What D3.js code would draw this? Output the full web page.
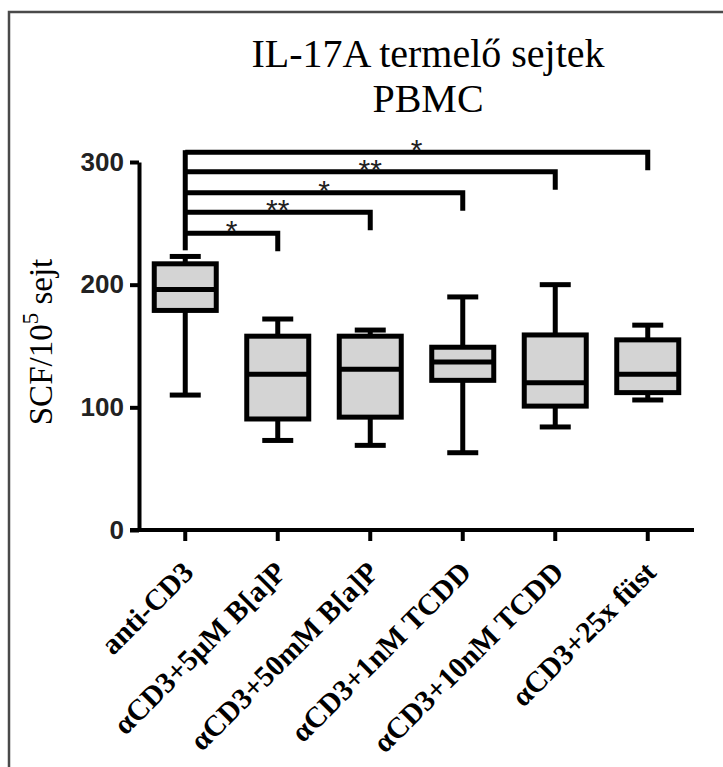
<!DOCTYPE html>
<html>
<head>
<meta charset="utf-8">
<script src="https://cdn.jsdelivr.net/npm/d3@7"></script>
<style>
body{margin:0;background:#fff;}
</style>
</head>
<body>
<svg></svg>
<script>
//groups on the x axis
var groups=["anti-CD3","αCD3+5μM B[a]P","αCD3+50mM B[a]P","αCD3+1nM TCDD","αCD3+10nM TCDD","αCD3+25x füst"]
//box plot numbers
var mins=[110,73,69,63,84,106]
var q1s=[179,90.5,92,122,101,112]
var medians=[196,127,131,137,120,127]
var q3s=[217,158,158,149,159,155]
var maxs=[223,172,163,190,200,167]
//significance brackets, all against anti-CD3
var compareTo=[1,2,3,4,5]
var stars=["*","**","*","**","*"]
var bracketLevels=[242,259,275,292,308]
var bracketBase=228
var yTicks=[0,100,200,300]

var makeTranslateString = function(x,y)
{
    return "translate("+x+","+y+")";
}

var screen={width:723,height:767}
var margins={left:139,right:29,top:162,bottom:237}

var svg=d3.select("svg")
    .attr("width",screen.width)
    .attr("height",screen.height)

//frame round the figure
svg.append("path")
    .attr("d","M9,"+screen.height+" V12 H"+screen.width)
    .attr("fill","none")
    .attr("stroke","#4a4a4a")
    .attr("stroke-width",2.5)

var xScale=d3.scaleBand()
    .domain(groups)
    .range([margins.left,screen.width-margins.right])

var yScale=d3.scaleLinear()
    .domain([0,300])
    .range([530,162])

var boxes=groups.map(function(g,i)
{
    return {name:g,min:mins[i],q1:q1s[i],med:medians[i],q3:q3s[i],max:maxs[i]}
})

var boxW=62
var capW=31

//axes
var yAxis=svg.append("g")
    .attr("transform",makeTranslateString(margins.left,0))
    .call(d3.axisLeft(yScale).tickValues(yTicks).tickSize(9).tickPadding(6).tickSizeOuter(0))
yAxis.select(".domain").attr("stroke","#000").attr("stroke-width",4)
yAxis.selectAll(".tick line").attr("stroke","#000").attr("stroke-width",4)
yAxis.selectAll(".tick text")
    .attr("font-family","'Liberation Sans',Arial,sans-serif")
    .attr("font-size",26)
    .attr("font-weight","bold")
    .attr("fill","#222")

var xAxis=svg.append("g")
    .attr("transform",makeTranslateString(0,530))
    .call(d3.axisBottom(xScale).tickSize(11).tickSizeOuter(0))
xAxis.select(".domain").attr("stroke","#000").attr("stroke-width",4)
    .attr("d","M"+(margins.left-9)+",0H"+(screen.width-margins.right))
xAxis.selectAll(".tick line").attr("stroke","#000").attr("stroke-width",4)
xAxis.selectAll(".tick text")
    .attr("font-family","'Liberation Serif','Times New Roman',serif")
    .attr("font-weight","bold")
    .attr("font-size",29.5)
    .attr("fill","#000")
    .attr("text-anchor","end")
    .attr("dy",0)
    .attr("y",0)
    .attr("transform","translate(10,44) rotate(-45)")

//boxes
var bx=svg.append("g")
    .selectAll("g")
    .data(boxes)
    .enter()
    .append("g")
    .attr("transform",function(d){return makeTranslateString(xScale(d.name)+xScale.bandwidth()/2,0)})

bx.append("line")
    .attr("y1",function(d){return yScale(d.min)})
    .attr("y2",function(d){return yScale(d.max)})
    .attr("stroke","#000").attr("stroke-width",5)
bx.selectAll(".cap")
    .data(function(d){return [d.min,d.max]})
    .enter()
    .append("line")
    .attr("class","cap")
    .attr("x1",-capW/2).attr("x2",capW/2)
    .attr("y1",function(v){return yScale(v)})
    .attr("y2",function(v){return yScale(v)})
    .attr("stroke","#000").attr("stroke-width",5)
bx.append("rect")
    .attr("x",-boxW/2)
    .attr("width",boxW)
    .attr("y",function(d){return yScale(d.q3)})
    .attr("height",function(d){return yScale(d.q1)-yScale(d.q3)})
    .attr("fill","#d4d4d4")
    .attr("stroke","#000").attr("stroke-width",5)
bx.append("line")
    .attr("x1",-boxW/2).attr("x2",boxW/2)
    .attr("y1",function(d){return yScale(d.med)})
    .attr("y2",function(d){return yScale(d.med)})
    .attr("stroke","#000").attr("stroke-width",5)

//brackets
var x0=xScale(groups[0])+xScale.bandwidth()/2
var br=svg.append("g")
br.append("line")
    .attr("x1",x0).attr("x2",x0)
    .attr("y1",yScale(bracketBase))
    .attr("y2",yScale(d3.max(bracketLevels))-2)
    .attr("stroke","#000").attr("stroke-width",5)
var brG=br.selectAll(".br")
    .data(compareTo)
    .enter()
    .append("g")
    .attr("class","br")
brG.append("path")
    .attr("d",function(t,i)
    {
        var x1=xScale(groups[t])+xScale.bandwidth()/2
        var yl=yScale(bracketLevels[i])
        return "M"+x0+","+yl+"H"+x1+"V"+(yl+18)
    })
    .attr("fill","none")
    .attr("stroke","#000").attr("stroke-width",5)
brG.append("text")
    .attr("x",function(t){return (x0+xScale(groups[t])+xScale.bandwidth()/2)/2})
    .attr("y",function(t,i){return yScale(bracketLevels[i])+8})
    .attr("text-anchor","middle")
    .attr("font-family","'Liberation Sans',Arial,sans-serif")
    .attr("font-size",30)
    .attr("fill","#222")
    .text(function(t,i){return stars[i]})

//title
var title=svg.append("text")
    .attr("text-anchor","middle")
    .attr("font-family","'Liberation Serif','Times New Roman',serif")
    .attr("font-size",40)
    .attr("fill","#000")
title.append("tspan").attr("x",428).attr("y",67).text("IL-17A termelő sejtek")
title.append("tspan").attr("x",428).attr("y",112).text("PBMC")

//y label with superscript
var ylab=svg.append("text")
    .attr("transform","translate(52,342) rotate(-90)")
    .attr("text-anchor","middle")
    .attr("font-family","'Liberation Serif','Times New Roman',serif")
    .attr("font-size",33)
    .attr("fill","#000")
ylab.append("tspan").text("SCF/10")
ylab.append("tspan").attr("font-size",23).attr("dy",-14).text("5")
ylab.append("tspan").attr("dy",14).text(" sejt")
</script>
</body>
</html>
